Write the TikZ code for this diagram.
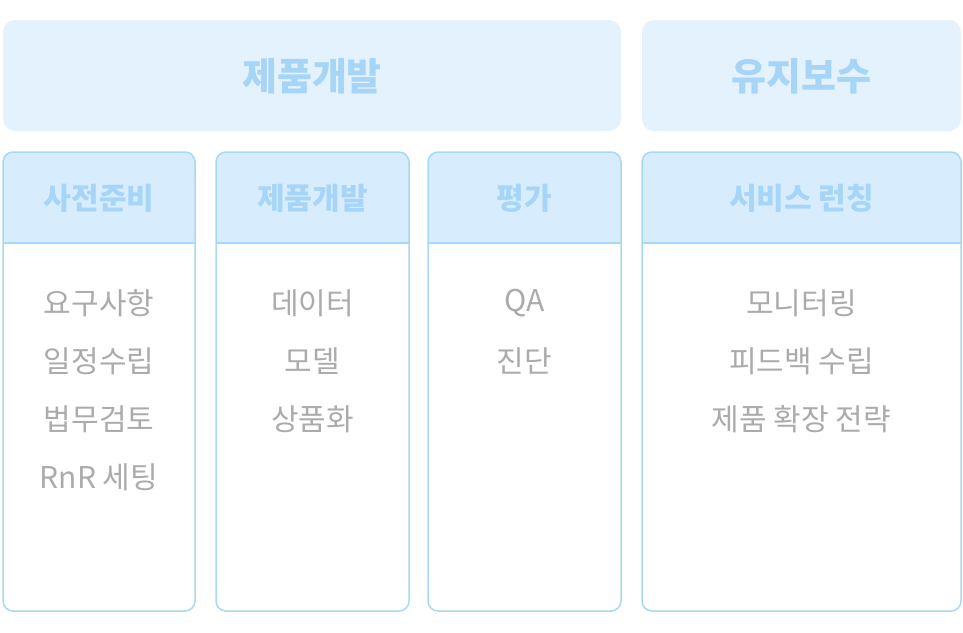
\documentclass[tikz,border=0pt]{standalone}
\usepackage{fontspec}
\setmainfont{Noto Sans CJK KR}

\definecolor{bannerfill}{HTML}{E3F2FD}
\definecolor{hdrfill}{HTML}{D7EDFD}
\definecolor{edge}{HTML}{A8D8F8}
\definecolor{titleblue}{HTML}{A6D5F8}
\definecolor{itemgray}{HTML}{ABABAB}

\begin{document}
\begin{tikzpicture}[x=1pt, y=-1pt,
	banner/.style={fill=bannerfill, rounded corners=12pt, inner sep=0pt},
	colbox/.style={draw=edge, line width=1.5pt, rounded corners=10pt, inner sep=0pt},
	bigtitle/.style={text=titleblue, font=\fontsize{38}{44}\selectfont\bfseries},
	head/.style={text=titleblue, font=\fontsize{30}{36}\selectfont\bfseries},
	item/.style={text=itemgray, font=\fontsize{30}{36}\selectfont}]
	\useasboundingbox (0,0) rectangle (963,632);
	% top banners
	\node[banner, minimum width=618pt, minimum height=111pt] (dev) at (312,75.5) {};
	\node[banner, minimum width=319pt, minimum height=111pt] (ops) at (801.5,75.5) {};
	\node[bigtitle] (dev-t) at (312,76) {제품개발};
	\node[bigtitle] (ops-t) at (801.5,76) {유지보수};
	% columns
	\foreach \n/\x/\w/\t in {prep/99/192/사전준비, build/312.5/193/제품개발, eval/524.5/193/평가, launch/801.5/319/서비스 런칭} {
		\fill[hdrfill] (\x-\w/2,243) [rounded corners=10pt] -- (\x-\w/2,152) -- (\x+\w/2,152) [sharp corners] -- (\x+\w/2,243) -- cycle;
		\node[colbox, minimum width=\w pt, minimum height=459pt] (\n) at (\x,381.5) {};
		\draw[edge, line width=1.5pt] (\x-\w/2,243) -- (\x+\w/2,243);
		\node[head] (\n-t) at (\x,198) {\t};
	}
	% items
	\foreach \t [count=\i] in {요구사항,일정수립,법무검토,RnR 세팅}
		\node[item] (prep-\i) at (99,245+58*\i) {\t};
	\foreach \t [count=\i] in {데이터,모델,상품화}
		\node[item] (build-\i) at (312.5,245+58*\i) {\t};
	\foreach \t [count=\i] in {QA,진단}
		\node[item] (eval-\i) at (524.5,245+58*\i) {\t};
	\foreach \t [count=\i] in {모니터링,피드백 수립,제품 확장 전략}
		\node[item] (launch-\i) at (801.5,245+58*\i) {\t};
\end{tikzpicture}
\end{document}
